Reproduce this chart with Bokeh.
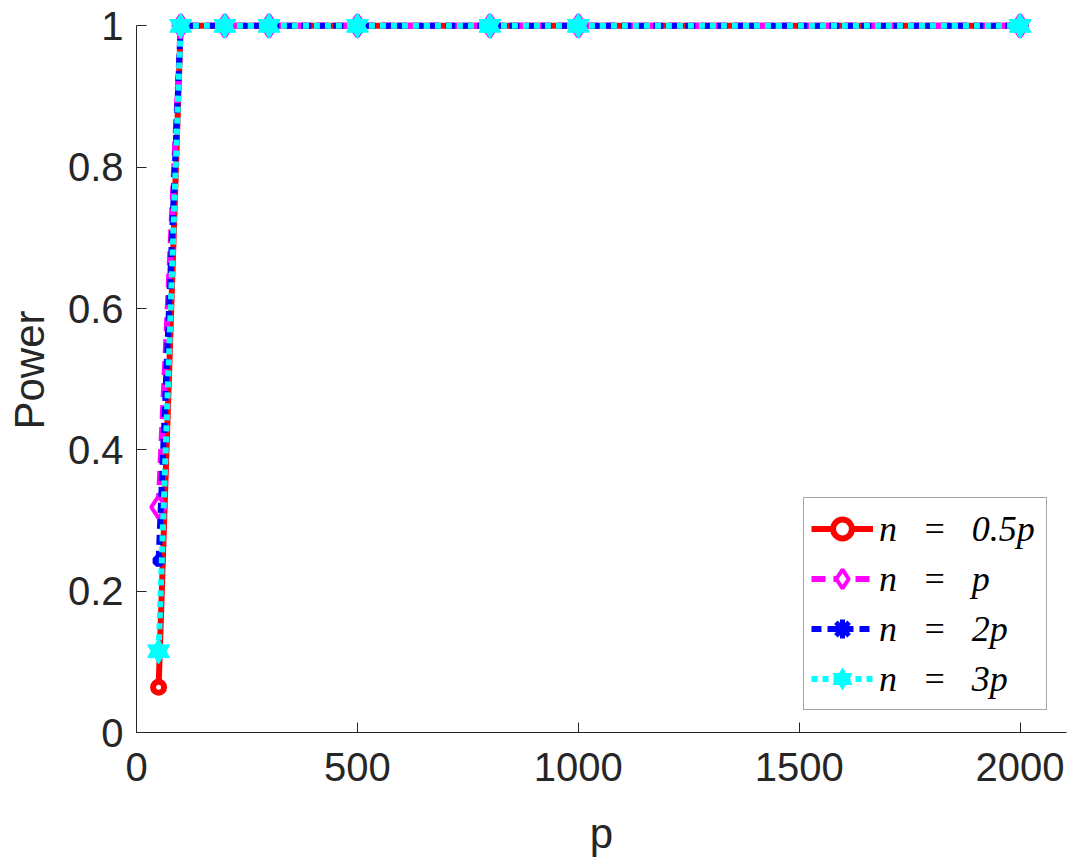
from bokeh.plotting import figure
from bokeh.models import Range1d, Legend, LegendItem, FixedTicker
from bokeh.embed import file_html
from bokeh.resources import INLINE

# ---- data ----
p_vals = [50, 100, 200, 300, 500, 800, 1000, 2000]
power_n05p = [0.064, 1, 1, 1, 1, 1, 1, 1]
power_n1p = [0.319, 1, 1, 1, 1, 1, 1, 1]
power_n2p = [0.243, 1, 1, 1, 1, 1, 1, 1]
power_n3p = [0.115, 1, 1, 1, 1, 1, 1, 1]
SP = "\u2002\u2009"
labels = ["n" + SP + "=" + SP + "0.5p", "n" + SP + "=" + SP + "p",
          "n" + SP + "=" + SP + "2p", "n" + SP + "=" + SP + "3p"]
x_ticks = [0, 500, 1000, 1500, 2000]
y_ticks = [0, 0.2, 0.4, 0.6, 0.8, 1]
y_tick_labels = ["0", "0.2", "0.4", "0.6", "0.8", "1"]

TXT = "#262626"
FONT = "Liberation Sans"

p = figure(width=1067, height=859, output_backend="svg", toolbar_location=None,
           x_range=Range1d(0, 2105), y_range=Range1d(0, 1.026),
           min_border_left=136, min_border_right=1, min_border_top=7,
           min_border_bottom=127)
p.outline_line_color = None
p.grid.visible = False
p.background_fill_color = "white"

# red solid, circles
r1 = p.line(p_vals, power_n05p, line_color="red", line_width=6)
m1 = p.scatter(p_vals, power_n05p, marker="circle", size=11, line_color="red",
               line_width=6, fill_color="white")
# magenta dashed, diamonds
r2 = p.line(p_vals, power_n1p, line_color="magenta", line_width=6, line_dash="14 8")
m2 = p.scatter(p_vals, power_n1p, marker="diamond", size=22, line_color="magenta",
               line_width=4, fill_color="white")
# blue dashed, asterisks
r3 = p.line(p_vals, power_n2p, line_color="blue", line_width=6, line_dash="10 6")
m3 = p.scatter(p_vals, power_n2p, marker="asterisk", size=12, line_color="blue",
               line_width=5)
# cyan dotted, hexagrams
r4 = p.line(p_vals, power_n3p, line_color="cyan", line_width=6, line_dash="6 5")
m4a = p.scatter(p_vals, power_n3p, marker="triangle", size=22, line_color="cyan",
                fill_color="cyan", line_width=1)
m4b = p.scatter(p_vals, power_n3p, marker="inverted_triangle", size=22,
                line_color="cyan", fill_color="cyan", line_width=1)

# axes
for ax in (p.xaxis[0], p.yaxis[0]):
    ax.axis_line_color = TXT
    ax.axis_line_width = 1
    ax.major_tick_line_color = TXT
    ax.major_tick_in = 10
    ax.major_tick_out = 0
    ax.minor_tick_line_color = None
    ax.major_label_text_font = FONT
    ax.major_label_text_font_size = "40px"
    ax.major_label_text_color = TXT
    ax.axis_label_text_font = FONT
    ax.axis_label_text_font_size = "42px"
    ax.axis_label_text_font_style = "normal"
    ax.axis_label_text_color = TXT

p.xaxis.ticker = FixedTicker(ticks=x_ticks)
p.xaxis.axis_label = "p"
p.xaxis.major_label_standoff = 20
p.xaxis.axis_label_standoff = 26

p.yaxis.ticker = FixedTicker(ticks=y_ticks)
p.yaxis.major_label_overrides = {t: l for t, l in zip(y_ticks, y_tick_labels)}
p.yaxis.axis_label = "Power"
p.yaxis.major_label_standoff = 13
p.yaxis.axis_label_standoff = 12
p.yaxis.bounds = (0, 1)

legend = Legend(items=[
    LegendItem(label=labels[0], renderers=[r1, m1]),
    LegendItem(label=labels[1], renderers=[r2, m2]),
    LegendItem(label=labels[2], renderers=[r3, m3]),
    LegendItem(label=labels[3], renderers=[r4, m4a, m4b]),
], location=(667, 22))
legend.margin = 0
legend.padding = 7
legend.spacing = 3
legend.glyph_width = 62
legend.glyph_height = 47
legend.label_height = 47
legend.label_width = 160
legend.label_standoff = 6
legend.label_text_font = "Liberation Serif"
legend.label_text_font_style = "italic"
legend.label_text_font_size = "36px"
legend.label_text_color = "black"
legend.border_line_color = "#4d4d4d"
legend.border_line_width = 1
legend.background_fill_color = "white"
legend.background_fill_alpha = 1
p.add_layout(legend, "center")

open("out.html", "w").write(file_html(p, INLINE))
